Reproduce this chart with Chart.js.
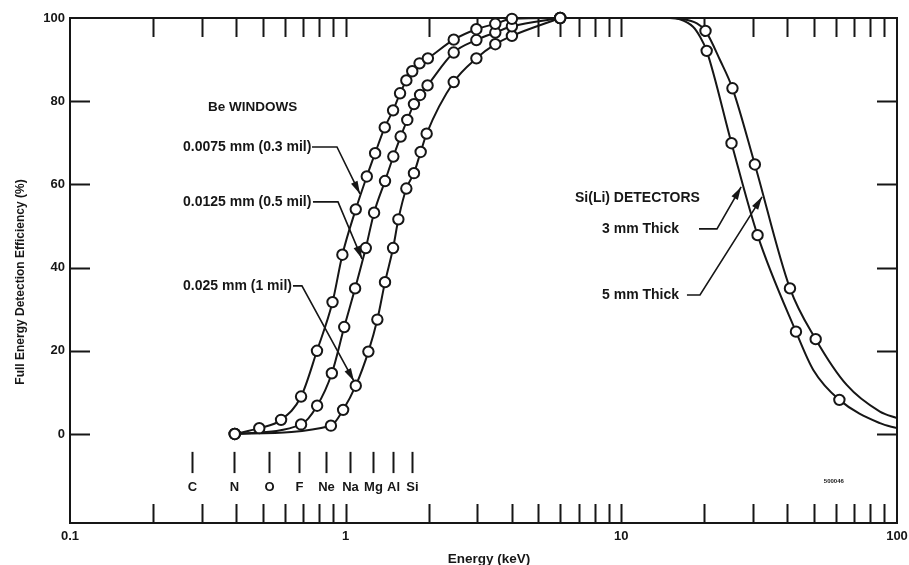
<!DOCTYPE html>
<html><head><meta charset="utf-8">
<script src="https://cdn.jsdelivr.net/npm/chart.js@4.4.1/dist/chart.umd.min.js"></script>
<style>html,body{margin:0;padding:0;background:#fff;}canvas{display:block;}</style>
</head><body>
<canvas id="c" width="909" height="565"></canvas>
<script>
// ---------- data ----------
const xTickValues = [0.1,0.2,0.3,0.4,0.5,0.6,0.7,0.8,0.9,1,2,3,4,5,6,7,8,9,10,20,30,40,50,60,70,80,90,100];
const xLabelValues = [0.1, 1, 10, 100];
const xLabelTexts = ['0.1', '1', '10', '100'];
const yTickValues = [0, 20, 40, 60, 80, 100];

// Be window curves (energy keV, efficiency %)
const be03E = [0.396,0.486,0.583,0.689,0.787,0.896,0.973,1.088,1.193,1.279,1.386,1.486,1.575,1.66,1.744,1.854,1.987,2.466,2.98,3.49,4.01,6.0];
const be03V = [0,1.4,3.4,9,20,31.7,43.1,54,61.9,67.5,73.7,77.8,81.9,85,87.2,89.1,90.3,94.8,97.3,98.6,99.8,100];
const be05E = [0.396,0.689,0.788,0.891,0.988,1.082,1.183,1.268,1.389,1.489,1.583,1.673,1.769,1.862,1.982,2.466,2.98,3.49,4.01,6.0];
const be05V = [0,2.3,6.8,14.6,25.7,35,44.7,53.2,60.8,66.7,71.5,75.5,79.3,81.5,83.8,91.7,94.7,96.5,98.0,100];
const be1E  = [0.396,0.884,0.979,1.088,1.209,1.303,1.389,1.486,1.553,1.66,1.769,1.871,1.967,2.466,2.98,3.49,4.01,6.0];
const be1V  = [0,2,5.8,11.6,19.8,27.5,36.5,44.7,51.6,59,62.7,67.8,72.2,84.6,90.3,93.7,95.7,100];

// Si(Li) detector curves: marked points
const si3MarkE = [20.4,25.1,31.2,43.0,61.8];
const si3MarkV = [92.1,69.9,47.8,24.6,8.2];
const si5MarkE = [20.2,25.3,30.5,40.9,50.7];
const si5MarkV = [96.9,83.1,64.8,35.0,22.8];
// Si(Li) detector curves: unmarked points
const si3ShapeE = [6,15,16.3,18.2,19.3,49.7,86.7,100];
const si3ShapeV = [100,100,99.7,97.9,95.5,15.4,2.6,1.4];
const si5ShapeE = [6,15,16.3,18.8,22.8,65.7,86.7,100];
const si5ShapeV = [100,100,99.8,98.7,89.9,11.8,5.4,3.8];

// Element K-lines
const elemNames = ['C','N','O','F','Ne','Na','Mg','Al','Si'];
const elemE = [0.277,0.392,0.525,0.677,0.849,1.041,1.254,1.487,1.740];

// ---------- helpers ----------
const pts = (E, V) => E.map((e, i) => ({x: e, y: V[i]}));
const merged = (E1, V1, E2, V2) => pts(E1, V1).concat(pts(E2, V2)).sort((a, b) => a.x - b.x);
const INK = '#161616';
const FONT = '"Liberation Sans", Arial, Helvetica, sans-serif';

function lineDS(data) {
  return {data, showLine: true, borderColor: INK, borderWidth: 2, pointRadius: 0, pointHoverRadius: 0,
    cubicInterpolationMode: 'monotone', clip: false, fill: false};
}
function markDS(data) {
  return {data, showLine: false, pointRadius: 5.2, pointHoverRadius: 5.2, pointBorderWidth: 2,
    pointBorderColor: INK, pointBackgroundColor: '#fff', clip: false};
}

const datasets = [
  markDS(pts(be03E, be03V)),
  markDS(pts(be05E, be05V)),
  markDS(pts(be1E, be1V)),
  markDS(pts(si3MarkE, si3MarkV)),
  markDS(pts(si5MarkE, si5MarkV)),
  lineDS(pts(be03E, be03V)),
  lineDS(pts(be05E, be05V)),
  lineDS(pts(be1E, be1V)),
  lineDS(merged(si3ShapeE, si3ShapeV, si3MarkE, si3MarkV)),
  lineDS(merged(si5ShapeE, si5ShapeV, si5MarkE, si5MarkV))
];

// ---------- annotations (data coordinates) ----------
const notes = [
  {t: 'Be WINDOWS', e: 0.3167, v: 78.6, s: 13.5},
  {t: '0.0075 mm (0.3 mil)', e: 0.257, v: 69.0, s: 14},
  {t: '0.0125 mm (0.5 mil)', e: 0.257, v: 55.8, s: 14},
  {t: '0.025 mm (1 mil)', e: 0.257, v: 35.6, s: 14},
  {t: 'Si(Li) DETECTORS', e: 6.79, v: 56.7, s: 14},
  {t: '3 mm Thick', e: 8.51, v: 49.3, s: 14},
  {t: '5 mm Thick', e: 8.51, v: 33.4, s: 14}
];
const leaders = [
  [[0.755, 69.0], [0.930, 69.0], [1.127, 57.7]],
  [[0.761, 55.8], [0.938, 55.8], [1.146, 42.1]],
  [[0.644, 35.6], [0.694, 35.6], [1.072, 12.7]],
  [[19.13, 49.3], [22.23, 49.3], [27.2, 59.4]],
  [[17.3, 33.4], [19.29, 33.4], [32.4, 57.0]]
];

const decor = {
  id: 'decor',
  beforeDatasetsDraw(chart) {
    const {ctx, chartArea: a, scales: {x, y}} = chart;
    ctx.save();
    ctx.strokeStyle = INK;
    ctx.lineWidth = 2;
    ctx.strokeRect(a.left, a.top, a.right - a.left, a.bottom - a.top);
    ctx.beginPath();
    xTickValues.forEach(v => {
      if (v <= 0.1 || v >= 100) return;
      const px = Math.round(x.getPixelForValue(v)) + 0.5;
      ctx.moveTo(px, a.bottom); ctx.lineTo(px, a.bottom - 19);
      ctx.moveTo(px, a.top); ctx.lineTo(px, a.top + 19);
    });
    yTickValues.forEach(v => {
      if (v >= 100) return;
      const py = Math.round(y.getPixelForValue(v)) + 0.5;
      ctx.moveTo(a.left, py); ctx.lineTo(a.left + 20, py);
      ctx.moveTo(a.right, py); ctx.lineTo(a.right - 20, py);
    });
    ctx.stroke();
    ctx.restore();
  },
  afterDatasetsDraw(chart) {
    const {ctx, scales: {x, y}} = chart;
    const P = (e, v) => [x.getPixelForValue(e), y.getPixelForValue(v)];
    ctx.save();
    ctx.fillStyle = INK;
    ctx.strokeStyle = INK;
    // element markers
    ctx.lineWidth = 2;
    ctx.font = 'bold 13px ' + FONT;
    ctx.textAlign = 'center';
    ctx.textBaseline = 'middle';
    elemE.forEach((e, i) => {
      const px = Math.round(x.getPixelForValue(e)) + 0.5;
      ctx.beginPath();
      ctx.moveTo(px, y.getPixelForValue(-4.3));
      ctx.lineTo(px, y.getPixelForValue(-9.4));
      ctx.stroke();
      ctx.fillText(elemNames[i], px, y.getPixelForValue(-12.8));
    });
    // notes
    ctx.textAlign = 'left';
    notes.forEach(n => { ctx.font = 'bold ' + n.s + 'px ' + FONT; const [px, py] = P(n.e, n.v); ctx.fillText(n.t, px, py); });
    // leaders with arrows
    ctx.lineWidth = 1.6;
    leaders.forEach(L => {
      const p = L.map(q => P(q[0], q[1]));
      ctx.beginPath();
      ctx.moveTo(p[0][0], p[0][1]);
      for (let i = 1; i < p.length; i++) ctx.lineTo(p[i][0], p[i][1]);
      ctx.stroke();
      const [tx, ty] = p[p.length - 1], [sx, sy] = p[p.length - 2];
      const ang = Math.atan2(ty - sy, tx - sx);
      const len = 13, hw = 3.6;
      ctx.beginPath();
      ctx.moveTo(tx, ty);
      ctx.lineTo(tx - len * Math.cos(ang) + hw * Math.sin(ang), ty - len * Math.sin(ang) - hw * Math.cos(ang));
      ctx.lineTo(tx - len * Math.cos(ang) - hw * Math.sin(ang), ty - len * Math.sin(ang) + hw * Math.cos(ang));
      ctx.closePath();
      ctx.fill();
    });
    // small reference code
    ctx.font = 'bold 6px ' + FONT;
    ctx.textAlign = 'center';
    const [cx, cy] = P(59, -11.3);
    ctx.fillText('500046', cx, cy);
    // axis titles
    ctx.font = 'bold 13.5px ' + FONT;
    ctx.fillText('Energy (keV)', 489, 559);
    ctx.save();
    ctx.translate(21, 282);
    ctx.rotate(-Math.PI / 2);
    ctx.font = 'bold 12px ' + FONT;
    ctx.fillText('Full Energy Detection Efficiency (%)', 0, 0);
    ctx.restore();
    ctx.restore();
  }
};

new Chart(document.getElementById('c'), {
  type: 'scatter',
  data: {datasets},
  options: {
    responsive: false,
    animation: false,
    devicePixelRatio: 1,
    events: [],
    layout: {padding: {top: 18, right: 12, left: 0, bottom: 0}},
    plugins: {legend: {display: false}, tooltip: {enabled: false}},
    scales: {
      x: {
        type: 'logarithmic', min: 0.1, max: 100,
        afterBuildTicks: s => { s.ticks = xTickValues.map(v => ({value: v})); },
        afterFit: s => { s.height = 42; s.paddingLeft = 0; s.paddingRight = 0; },
        grid: {display: false, drawTicks: false},
        border: {display: false},
        ticks: {
          autoSkip: false, maxRotation: 0, padding: 6, color: INK,
          font: {family: FONT, size: 13, weight: 'bold'},
          callback: v => { const i = xLabelValues.findIndex(t => Math.abs(t - v) < 1e-9); return i >= 0 ? xLabelTexts[i] : ''; }
        }
      },
      y: {
        type: 'linear', min: -21.4, max: 100,
        afterBuildTicks: s => { s.ticks = yTickValues.map(v => ({value: v})); },
        afterFit: s => { s.width = 70; s.paddingTop = 0; s.paddingBottom = 0; },
        grid: {display: false, drawTicks: false},
        border: {display: false},
        ticks: {
          padding: 5, color: INK,
          font: {family: FONT, size: 13, weight: 'bold'},
          callback: v => String(v)
        }
      }
    }
  },
  plugins: [decor]
});
</script>
</body></html>
